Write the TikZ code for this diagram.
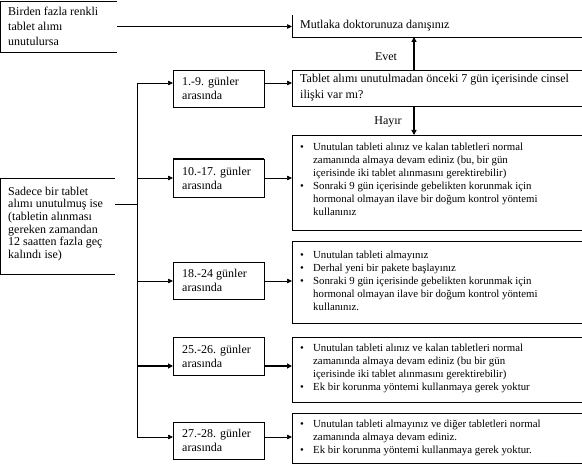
\documentclass[tikz,border=0pt]{standalone}
\usepackage{fontspec}
\setmainfont{Liberation Serif}
\usetikzlibrary{arrows.meta}
\newcommand\mybul{\makebox[13pt][l]{\textbullet}}
\newcommand\myind{\hspace*{13pt}}
\begin{document}
\begin{tikzpicture}[x=1pt,y=-1pt,
  boxc/.style={draw, line width=0.7pt, inner sep=0pt, outer sep=0pt, anchor=north west},
  openbox/.style={inner sep=0pt, outer sep=0pt, anchor=north west},
  txtL/.style={font=\fontsize{12}{15}\selectfont, align=left, inner sep=0pt, anchor=west},
  txtB/.style={font=\fontsize{10.8}{13}\selectfont, align=left, inner sep=0pt, anchor=west},
  lbl/.style={font=\fontsize{12}{14}\selectfont, inner sep=0pt},
  ln/.style={line width=0.7pt},
  arr/.style={-{Triangle[length=5pt,width=4.5pt]}, line width=0.7pt},
  thickarr/.style={-{Triangle[length=5pt,width=5pt]}, line width=1.6pt}]
\useasboundingbox (0,0) rectangle (582,465);
\fill[white] (0,0) rectangle (582,465);

% left boxes (open on the right)
\node[openbox, minimum width=117pt, minimum height=51pt] (bir) at (0,1) {};
\draw[ln] (bir.north east) -- (bir.north west) -- (bir.south west) -- (bir.south east);
\node[txtL] (tbir) at ([xshift=8pt]bir.west) {Birden fazla renkli\\tablet alımı\\unutulursa};

\node[openbox, minimum width=115pt, minimum height=96pt] (sad) at (0,178) {};
\draw[ln] (sad.north east) -- (sad.north west) -- (sad.south west) -- (sad.south east);
\node[txtL, font=\fontsize{12}{12.6}\selectfont] (tsad) at ([xshift=8pt,yshift=2pt]sad.west) {Sadece bir tablet\\alımı unutulmuş ise\\(tabletin alınması\\gereken zamandan\\12 saatten fazla geç\\kalındı ise)};

% top right boxes
\node[openbox, minimum width=308pt, minimum height=22pt] (mut) at (292,15) {};
\draw[ln] (mut.north west) -- (mut.south west) -- (mut.south east);
\node[txtL] (tmut) at ([xshift=8pt]mut.west) {Mutlaka doktorunuza danışınız};

\node[boxc, minimum width=308pt, minimum height=36pt] (tab) at (292,70) {};
\node[txtL, font=\fontsize{12}{16}\selectfont] (ttab) at ([xshift=8pt]tab.west) {Tablet alımı unutulmadan önceki 7 gün içerisinde cinsel\\ilişki var mı?};

% small day boxes
\node[boxc, minimum width=91pt, minimum height=37pt] (s1) at (173,70) {};
\node[boxc, minimum width=91pt, minimum height=38pt] (s2) at (173,159) {};
\node[boxc, minimum width=91pt, minimum height=37pt] (s3) at (173,262) {};
\node[boxc, minimum width=91pt, minimum height=38pt] (s4) at (173,337) {};
\node[boxc, minimum width=91pt, minimum height=37pt] (s5) at (173,422) {};
\draw[line width=1.6pt] (s2.north west) -- (s2.north east);
\node[txtL, font=\fontsize{12}{14}\selectfont] (ts1) at ([xshift=9pt]s1.west) {1.-9. günler\\arasında};
\node[txtL, font=\fontsize{12}{14}\selectfont] (ts2) at ([xshift=9pt]s2.west) {10.-17. günler\\arasında};
\node[txtL, font=\fontsize{12}{14}\selectfont] (ts3) at ([xshift=9pt]s3.west) {18.-24 günler\\arasında};
\node[txtL, font=\fontsize{12}{14}\selectfont] (ts4) at ([xshift=9pt]s4.west) {25.-26. günler\\arasında};
\node[txtL, font=\fontsize{12}{14}\selectfont] (ts5) at ([xshift=9pt]s5.west) {27.-28. günler\\arasında};

% instruction boxes
\node[boxc, minimum width=308pt, minimum height=95pt] (u1) at (292,135) {};
\node[boxc, minimum width=308pt, minimum height=82pt] (u2) at (292,241) {};
\node[boxc, minimum width=308pt, minimum height=65pt] (u3) at (292,337) {};
\node[boxc, minimum width=308pt, minimum height=50pt] (u4) at (292,413) {};

\node[txtB] (tu1) at ([xshift=8pt,yshift=3pt]u1.west) {\mybul Unutulan tableti alınız ve kalan tabletleri normal\\
\myind zamanında almaya devam ediniz (bu, bir gün\\
\myind içerisinde iki tablet alınmasını gerektirebilir)\\
\mybul Sonraki 9 gün içerisinde gebelikten korunmak için\\
\myind hormonal olmayan ilave bir doğum kontrol yöntemi\\
\myind kullanınız};
\node[txtB] (tu2) at ([xshift=8pt,yshift=1.5pt]u2.west) {\mybul Unutulan tableti almayınız\\
\mybul Derhal yeni bir pakete başlayınız\\
\mybul Sonraki 9 gün içerisinde gebelikten korunmak için\\
\myind hormonal olmayan ilave bir doğum kontrol yöntemi\\
\myind kullanınız.};
\node[txtB] (tu3) at ([xshift=8pt,yshift=1.5pt]u3.west) {\mybul Unutulan tableti alınız ve kalan tabletleri normal\\
\myind zamanında almaya devam ediniz (bu bir gün\\
\myind içerisinde iki tablet alınmasını gerektirebilir)\\
\mybul Ek bir korunma yöntemi kullanmaya gerek yoktur};
\node[txtB] (tu4) at ([xshift=8pt]u4.west) {\mybul Unutulan tableti almayınız ve diğer tabletleri normal\\
\myind zamanında almaya devam ediniz.\\
\mybul Ek bir korunma yöntemi kullanmaya gerek yoktur.};

% labels
\coordinate (vx) at (414,0);
\node[lbl] (evet) at (386,57) {Evet};
\node[lbl] (hayir) at (388,122) {Hayır};

% connectors
\draw[arr] (bir.east) -- (mut.west |- bir.east);
\draw[thickarr] (tab.north -| vx) -- (mut.south -| vx);
\draw[thickarr] (tab.south -| vx) -- (u1.north -| vx);

\coordinate (j1) at (137,83);
\coordinate (j2) at (137,178);
\coordinate (js) at (137,204);
\coordinate (j3) at (137,281);
\coordinate (j4) at (137,366);
\coordinate (j5) at (137,437);
\draw[ln] (j1) -- (j5);
\draw[ln] (sad.east |- js) -- (js);
\draw[arr] (j1) -- (j1 -| s1.west);
\draw[arr] (j2) -- (j2 -| s2.west);
\draw[arr] (j3) -- (j3 -| s3.west);
\draw[thickarr] (j4) -- (j4 -| s4.west);
\draw[arr] (j5) -- (j5 -| s5.west);

\draw[arr] (s1.east |- j1) -- (tab.west |- j1);
\draw[arr] (s2.east |- j2) -- (u1.west |- j2);
\draw[arr] (s3.east |- j3) -- (u2.west |- j3);
\draw[thickarr] (s4.east |- j4) -- (u3.west |- j4);
\draw[arr] (s5.east |- j5) -- (u4.west |- j5);
\end{tikzpicture}
\end{document}
